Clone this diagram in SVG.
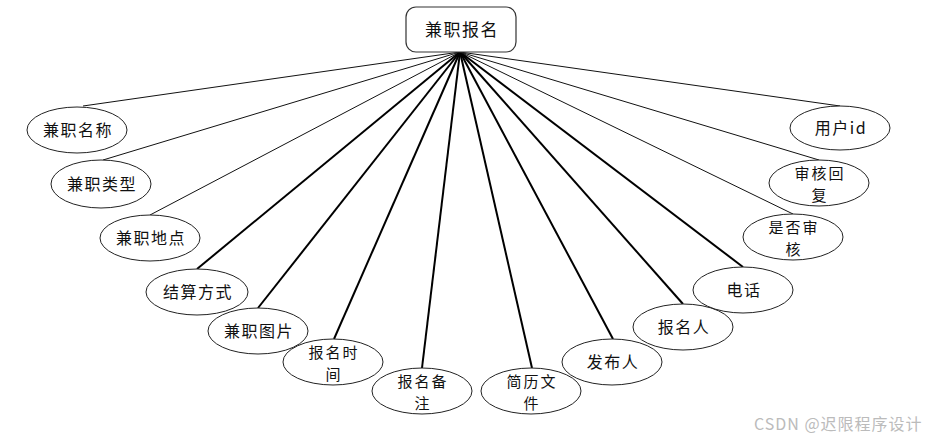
<svg xmlns="http://www.w3.org/2000/svg" width="930" height="439" viewBox="0 0 930 439">
<style>
.e{fill:#fff;stroke:#222;stroke-width:1}
.t{font-family:"Noto Sans CJK SC","Noto Sans",sans-serif;font-size:16px;fill:#111;text-anchor:middle;letter-spacing:1.5px}
.t2{font-size:15px;letter-spacing:2px}
.l1{stroke:#111;stroke-width:1;fill:none}
.l2{stroke:#000;stroke-width:2;fill:none}
.w{font-family:"Noto Sans CJK SC","Liberation Sans",sans-serif;font-size:16px;fill:#bbb;letter-spacing:1px}
</style>
<rect width="930" height="439" fill="#fff"/>
<g id="connectors">
<line class="l1" x1="460" y1="52" x2="83" y2="106"/>
<line class="l1" x1="460" y1="52" x2="103" y2="160"/>
<line class="l1" x1="460" y1="52" x2="150" y2="215"/>
<line class="l2" x1="460" y1="52" x2="197" y2="269"/>
<line class="l2" x1="460" y1="52" x2="258" y2="308"/>
<line class="l2" x1="460" y1="52" x2="334" y2="339"/>
<line class="l2" x1="460" y1="52" x2="422" y2="368"/>
<line class="l2" x1="460" y1="52" x2="532" y2="368"/>
<line class="l2" x1="460" y1="52" x2="613" y2="339"/>
<line class="l2" x1="460" y1="52" x2="683" y2="304"/>
<line class="l2" x1="460" y1="52" x2="743" y2="267"/>
<line class="l1" x1="460" y1="52" x2="793" y2="214"/>
<line class="l1" x1="460" y1="52" x2="819" y2="160"/>
<line class="l1" x1="460" y1="52" x2="840" y2="106"/>
</g>
<g id="root">
<rect x="406" y="7" width="110" height="45" rx="10" fill="#fff" stroke="#333" stroke-width="1.2"/>
<text class="t" x="462" y="36" style="font-size:17px">兼职报名</text>
</g>
<g id="n1"><ellipse class="e" cx="77" cy="130" rx="50" ry="23"/><text class="t" x="78" y="136">兼职名称</text></g>
<g id="n2"><ellipse class="e" cx="101" cy="184" rx="50" ry="24"/><text class="t" x="102" y="190">兼职类型</text></g>
<g id="n3"><ellipse class="e" cx="150" cy="238" rx="50" ry="23"/><text class="t" x="151" y="244">兼职地点</text></g>
<g id="n4"><ellipse class="e" cx="197" cy="292" rx="51" ry="23"/><text class="t" x="198" y="298">结算方式</text></g>
<g id="n5"><ellipse class="e" cx="258" cy="331" rx="50" ry="23"/><text class="t" x="259" y="337">兼职图片</text></g>
<g id="n6"><ellipse class="e" cx="333" cy="362" rx="50" ry="23"/><text class="t t2" x="334" y="358">报名时<tspan x="334" dy="22">间</tspan></text></g>
<g id="n7"><ellipse class="e" cx="422" cy="391" rx="50" ry="23"/><text class="t t2" x="423" y="387">报名备<tspan x="423" dy="22">注</tspan></text></g>
<g id="n8"><ellipse class="e" cx="531" cy="391" rx="50" ry="23"/><text class="t t2" x="532" y="387">简历文<tspan x="532" dy="22">件</tspan></text></g>
<g id="n9"><ellipse class="e" cx="612" cy="362" rx="50" ry="23"/><text class="t" x="613" y="368">发布人</text></g>
<g id="n10"><ellipse class="e" cx="683" cy="327" rx="50" ry="23"/><text class="t" x="684" y="333">报名人</text></g>
<g id="n11"><ellipse class="e" cx="743" cy="290" rx="50" ry="23"/><text class="t" x="744" y="296">电话</text></g>
<g id="n12"><ellipse class="e" cx="793" cy="237" rx="50" ry="23"/><text class="t t2" x="794" y="233">是否审<tspan x="794" dy="22">核</tspan></text></g>
<g id="n13"><ellipse class="e" cx="819" cy="183" rx="50" ry="23"/><text class="t t2" x="820" y="179">审核回<tspan x="820" dy="22">复</tspan></text></g>
<g id="n14"><ellipse class="e" cx="840" cy="128" rx="50" ry="22"/><text class="t" x="841" y="134">用户id</text></g>
<text class="w" x="754" y="430">CSDN @迟限程序设计</text>
</svg>
